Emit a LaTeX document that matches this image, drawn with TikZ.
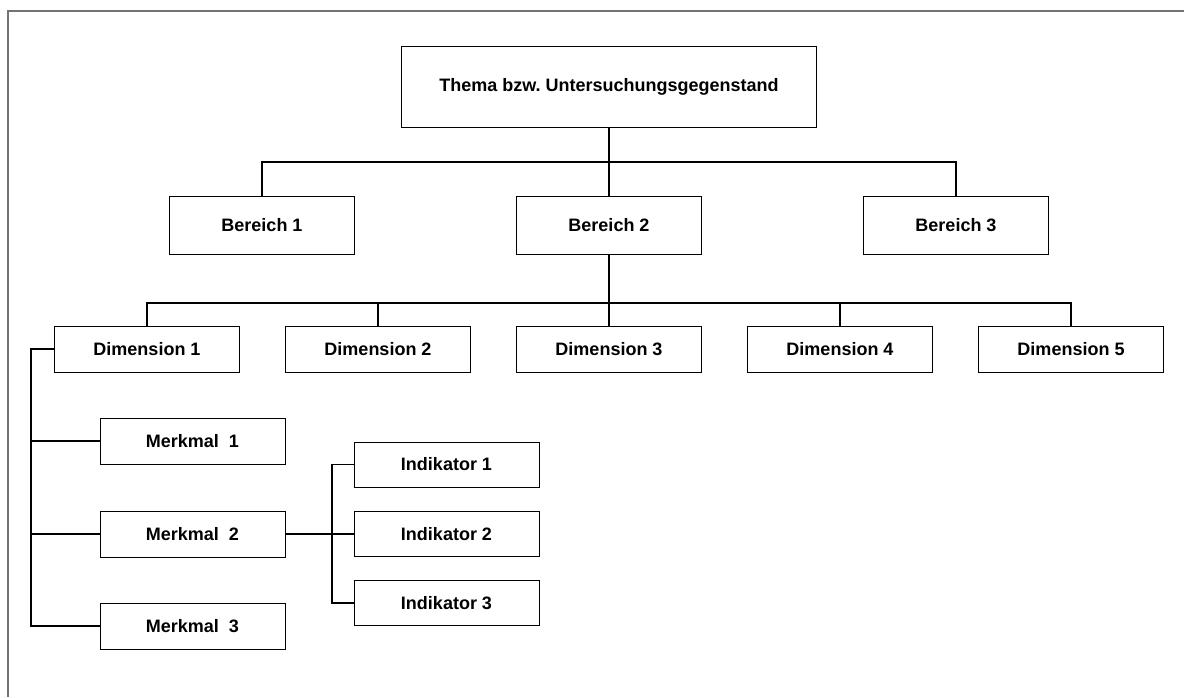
\documentclass[tikz,border=0pt]{standalone}
\usepackage{fontspec}
\setmainfont{Liberation Sans}
\begin{document}
\begin{tikzpicture}[x=1pt, y=-1pt,
    box/.style={draw=black, line width=1pt, minimum width=185pt, minimum height=46pt, inner sep=0pt, font=\fontsize{18}{20}\selectfont\bfseries},
    conn/.style={black, line width=1.9pt}]
        \useasboundingbox (0,0) rectangle (1184,697);
        % Frame
        \draw[gray!110, line width=1.2pt] (8,697) -- (8,11) -- (1184,11);

        % Top level
        \node[box, minimum width=415pt, minimum height=81pt] (thema) at (609,86.5) {Thema bzw.\ Untersuchungsgegenstand};

        % Bereiche
        \node[box, minimum height=58pt] (b1) at (262,225) {Bereich 1};
        \node[box, minimum height=58pt] (b2) at (609,225) {Bereich 2};
        \node[box, minimum height=58pt] (b3) at (956,225) {Bereich 3};
        \coordinate (bar1) at (0,162);
        \draw[conn] (thema.south) -- (b2.north);
        \draw[conn] (b1.north) -- (b1.north |- bar1) -- (b3.north |- bar1) -- (b3.north);

        % Dimensionen
        \foreach \i in {1,...,5}
            \node[box] (d\i) at ({147+231*(\i-1)},349) {Dimension \i};
        \coordinate (bar2) at (0,303);
        \draw[conn] (b2.south) -- (d3.north);
        \draw[conn] (d1.north) -- (d1.north |- bar2) -- (d5.north |- bar2) -- (d5.north);
        \foreach \i in {2,4}
            \draw[conn] (d\i.north) -- (d\i.north |- bar2);

        % Merkmale
        \node[box] (m1) at (192.5,441) {Merkmal~~1};
        \node[box] (m2) at (192.5,534) {Merkmal~~2};
        \node[box] (m3) at (192.5,626) {Merkmal~~3};
        \coordinate (mspine) at (31,0);
        \draw[conn] (d1.west) -| (mspine |- m3.west) -- (m3.west);
        \draw[conn] (m1.west) -- (m1.west -| mspine);
        \draw[conn] (m2.west) -- (m2.west -| mspine);

        % Indikatoren
        \node[box, minimum height=45pt] (i1) at (446.5,464.5) {Indikator 1};
        \node[box, minimum height=45pt] (i2) at (446.5,534) {Indikator 2};
        \node[box, minimum height=45pt] (i3) at (446.5,603) {Indikator 3};
        \coordinate (ispine) at (332,0);
        \draw[conn] (i1.west) -| (ispine |- i3.west) -- (i3.west);
        \draw[conn, line width=1.2pt] (m2.east) -- (m2.east -| ispine);
        \draw[conn] (i2.west -| ispine) -- (i2.west);
    \end{tikzpicture}
\end{document}
